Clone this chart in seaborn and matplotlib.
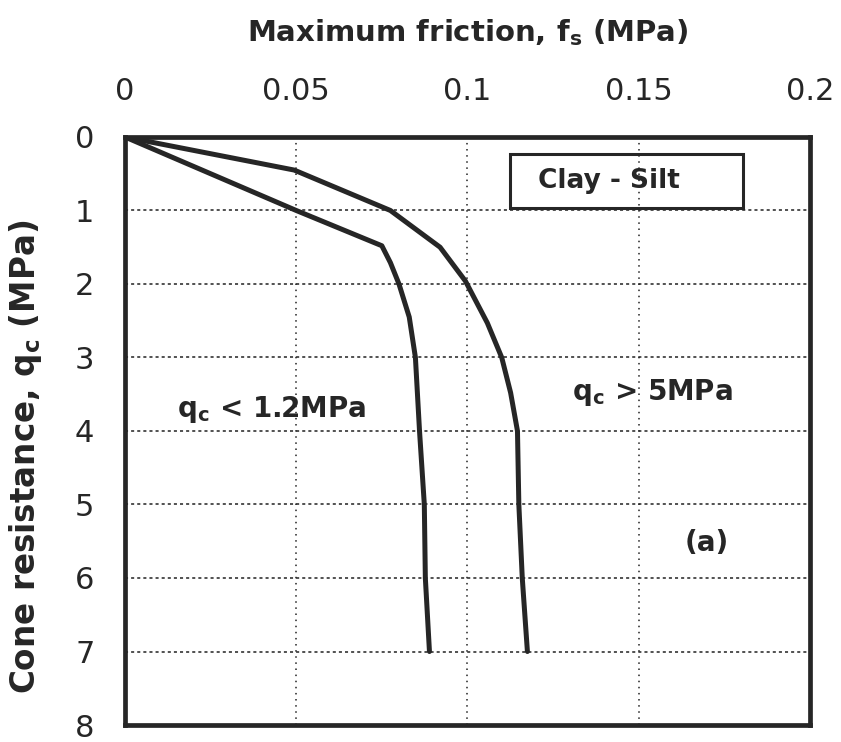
import matplotlib
matplotlib.use("Agg")
import matplotlib.pyplot as plt
import seaborn as sns
import pandas as pd
from matplotlib.patches import Rectangle

# ---- data ----
fs_low = [0, 0.050, 0.075, 0.0775, 0.080, 0.083, 0.0848, 0.086, 0.0874, 0.0877, 0.0889]
qc_low = [0, 1.0, 1.48, 1.71, 2.0, 2.45, 3.0, 4.0, 5.0, 6.0, 7.0]
fs_high = [0, 0.0494, 0.0775, 0.092, 0.0994, 0.1058, 0.110, 0.1126, 0.1146, 0.115, 0.116, 0.1175]
qc_high = [0, 0.45, 1.0, 1.5, 1.96, 2.53, 3.0, 3.48, 4.0, 5.0, 6.0, 7.0]
x_ticks = [0, 0.05, 0.1, 0.15, 0.2]
x_tick_labels = ["0", "0.05", "0.1", "0.15", "0.2"]
y_ticks = [0, 1, 2, 3, 4, 5, 6, 7, 8]

df = pd.concat([
    pd.DataFrame({"fs": fs_low, "qc": qc_low, "curve": "low"}),
    pd.DataFrame({"fs": fs_high, "qc": qc_high, "curve": "high"}),
])

sns.set_style("white")
plt.rcParams["font.family"] = ["DejaVu Sans"]
plt.rcParams["mathtext.fontset"] = "dejavusans"

INK = "#262626"
fig = plt.figure(figsize=(8.41, 7.42), dpi=100)
ax = fig.add_axes([0.1486, 0.0229, 0.8145, 0.7925])

sns.lineplot(data=df, x="fs", y="qc", hue="curve", sort=False, estimator=None,
             palette={"low": INK, "high": INK}, linewidth=3.6,
             legend=False, ax=ax)

ax.set_xlim(0, 0.2)
ax.set_ylim(8, 0)
ax.xaxis.tick_top()
ax.xaxis.set_label_position("top")
ax.set_xticks(x_ticks)
ax.set_xticklabels(x_tick_labels)
ax.set_yticks(y_ticks)
ax.tick_params(axis="x", length=0, pad=22, labelsize=22, labelcolor=INK)
ax.tick_params(axis="y", length=0, pad=22, labelsize=22, labelcolor=INK)

# grid
for xv in x_ticks[1:-1]:
    ax.axvline(xv, color="#222222", lw=1.1, ls=(0, (1, 3)), zorder=0)
for yv in y_ticks[1:-1]:
    ax.axhline(yv, color="#222222", lw=1.1, ls=(0, (2, 2)), zorder=0)

for s in ax.spines.values():
    s.set_visible(True)
    s.set_linewidth(3.4)
    s.set_color(INK)

ax.set_xlabel(r"Maximum friction, f$_\mathregular{s}$ (MPa)", fontsize=21,
              fontweight="bold", labelpad=26, color=INK)
ax.set_ylabel(r"Cone resistance, q$_\mathregular{c}$ (MPa)", fontsize=23.5,
              fontweight="bold", color=INK)
ax.yaxis.set_label_coords(-0.118, 0.456)

# annotations
ax.add_patch(Rectangle((0.1123, 0.23), 0.0681, 0.74, fill=False,
                       edgecolor=INK, lw=2.2, zorder=3))
ax.text(0.1205, 0.60, "Clay - Silt", fontsize=19, fontweight="bold",
        ha="left", va="center", color=INK)
ax.text(0.0430, 3.71, r"q$_\mathregular{c}$ < 1.2MPa", fontsize=20,
        fontweight="bold", ha="center", va="center", color=INK)
ax.text(0.1540, 3.48, r"q$_\mathregular{c}$ > 5MPa", fontsize=20,
        fontweight="bold", ha="center", va="center", color=INK)
ax.text(0.1700, 5.52, "(a)", fontsize=20, fontweight="bold",
        ha="center", va="center", color=INK)

fig.savefig("out.png", dpi=100)
